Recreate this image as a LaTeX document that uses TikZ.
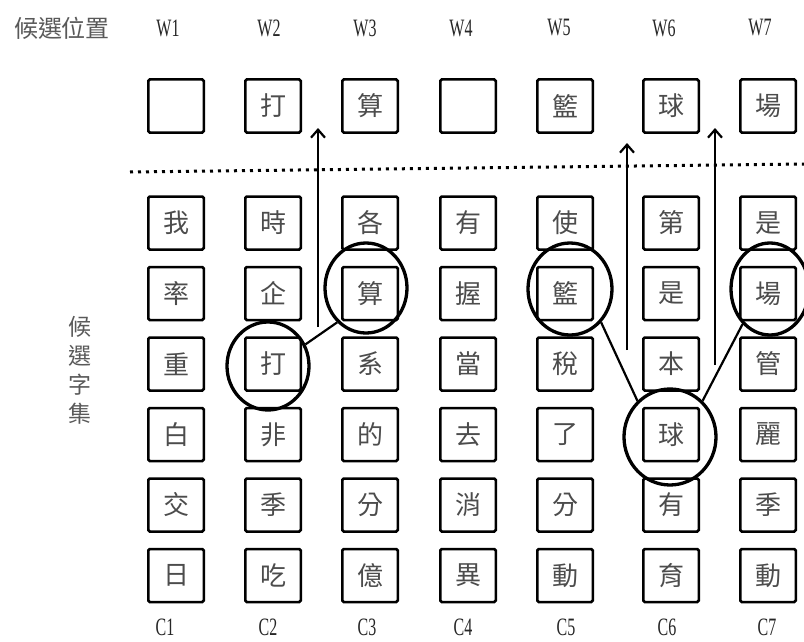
\documentclass[tikz,border=0pt]{standalone}
\usepackage{fontspec}
\usetikzlibrary{shapes.geometric,arrows.meta}
\newfontfamily\cjk{Noto Sans CJK TC}
\newfontfamily\narrowserif[FakeStretch=0.64]{Liberation Serif}
\begin{document}
\begin{tikzpicture}[x=1pt,y=-1pt,
  cell/.style={draw, line width=2.5pt, rounded corners=1.5pt, minimum width=55.5pt, minimum height=53pt, inner sep=0pt, font=\cjk\fontsize{26}{26}\selectfont, text=black!70},
  ring/.style={draw, ellipse, line width=3.3pt, inner sep=0pt},
  hdr/.style={font=\narrowserif\fontsize{25}{25}\selectfont, text=black!85, inner sep=0pt},
  cjklabel/.style={font=\cjk\fontsize{24}{24}\selectfont, text=black!65, inner sep=0pt},
  uparrow/.style={line width=2.2pt, -{Straight Barb[length=8pt,width=14pt,line width=2.2pt]}},
  link/.style={line width=2.2pt},
  sep/.style={line width=3pt, dash pattern=on 3pt off 5pt}
]
\useasboundingbox (0,0) rectangle (804,642);
\def\colx{{176,273,370,468,565,671,768}}
% header
\node[cjklabel] (hdr) at (62,28) {候選位置};
\foreach \w/\x in {1/168,2/269,3/365,4/461,5/559,6/664,7/760}
  \node[hdr] (w\w) at (\x,28) {W\w};
\foreach \w/\x in {1/165,2/268,3/367,4/463,5/566,6/667,7/767}
  \node[hdr] (c\w) at (\x,627) {C\w};
% top row
\foreach \ch [count=\c] in {{},打,算,{},籃,球,場} {
  \pgfmathsetmacro\xx{\colx[\c-1]}
  \node[cell] (t-\c) at (\xx,106) {\ch};
}
% separator
\coordinate (s1) at (130,172);
\coordinate (s2) at (804,164);
\draw[sep] (s1) -- (s2);
% grid
\foreach \row [count=\r] in {{我,時,各,有,使,第,是},{率,企,算,握,籃,是,場},{重,打,系,當,稅,本,管},{白,非,的,去,了,球,麗},{交,季,分,消,分,有,季},{日,吃,億,異,動,育,動}} {
  \foreach \ch [count=\c] in \row {
    \pgfmathsetmacro\xx{\colx[\c-1]}
    \pgfmathsetmacro\yy{223+70.5*(\r-1)}
    \node[cell] (g-\r-\c) at (\xx,\yy) {\ch};
  }
}
% vertical label
\node[cjklabel, font=\cjk\fontsize{23}{29}\selectfont, align=center] (vl) at (80,370) {候\\選\\字\\集};
% rings
\node[ring, minimum width=82pt, minimum height=88pt] (e1) at (268,366) {};
\node[ring, minimum width=82pt, minimum height=90pt] (e2) at (366,288) {};
\node[ring, minimum width=84pt, minimum height=92pt] (e3) at (570,289) {};
\node[ring, minimum width=92pt, minimum height=96pt] (e4) at (670,437) {};
\node[ring, minimum width=78pt, minimum height=92pt] (e5) at (770,289) {};
\draw[link] (e1.30) -- (e2.-130);
\draw[link] (e3.-47) -- (e4.132);
\draw[link] (e4.48) -- (e5.-128);
% arrows
\coordinate (a1s) at (318,327); \coordinate (a1e) at (318,128);
\coordinate (a2s) at (627,350); \coordinate (a2e) at (627,143);
\coordinate (a3s) at (715,365); \coordinate (a3e) at (715,128);
\draw[uparrow] (a1s) -- (a1e);
\draw[uparrow] (a2s) -- (a2e);
\draw[uparrow] (a3s) -- (a3e);
\end{tikzpicture}
\end{document}
